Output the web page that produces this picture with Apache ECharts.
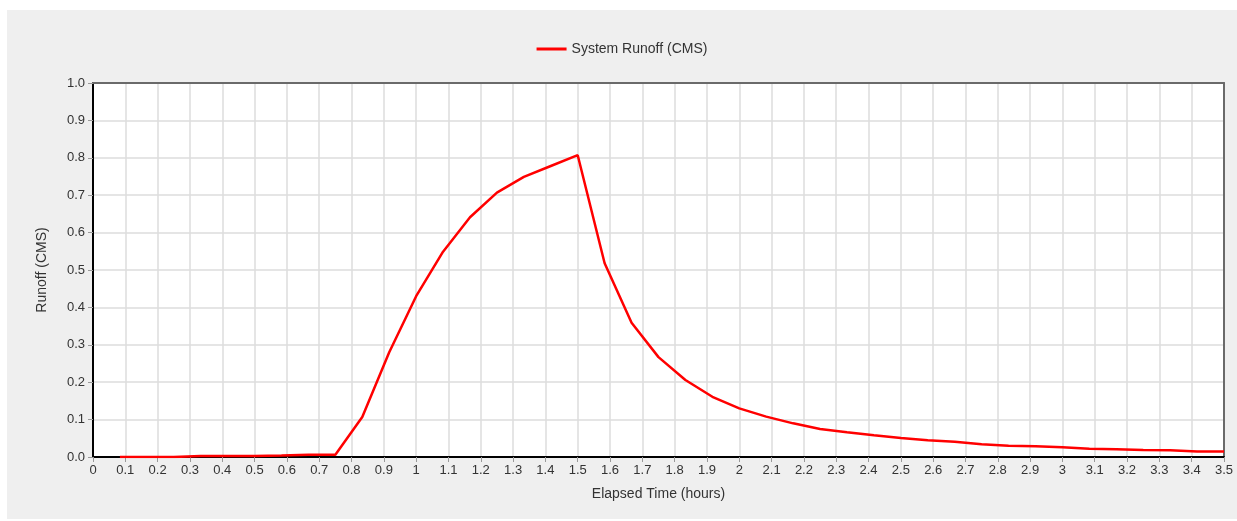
<!DOCTYPE html>
<html>
<head>
<meta charset="utf-8">
<script src="https://cdn.jsdelivr.net/npm/echarts@6/dist/echarts.min.js"></script>
<style>
html,body{margin:0;padding:0;background:#ffffff;width:1237px;height:521px;overflow:hidden;}
#chart{position:absolute;left:7px;top:10px;width:1230px;height:509px;}
</style>
</head>
<body>
<div id="chart"></div>
<script>
// Elapsed time (hours) at each reported step
const timeHours = [0.0833,0.1667,0.25,0.3333,0.4167,0.5,0.5833,0.6667,0.75,0.8333,0.9167,1.0,
  1.0833,1.1667,1.25,1.3333,1.4167,1.5,1.5833,1.6667,1.75,1.8333,1.9167,2.0,
  2.0833,2.1667,2.25,2.3333,2.4167,2.5,2.5833,2.6667,2.75,2.8333,2.9167,3.0,
  3.0833,3.1667,3.25,3.3333,3.4167,3.5];
// System runoff (CMS)
const runoff = [0,0,0,0.003,0.003,0.003,0.004,0.006,0.006,0.107,0.28,0.43,
  0.549,0.641,0.707,0.749,0.778,0.807,0.518,0.359,0.267,0.206,0.161,0.130,
  0.108,0.090,0.075,0.066,0.058,0.051,0.045,0.041,0.034,0.030,0.029,0.026,
  0.022,0.021,0.019,0.018,0.015,0.015];
const seriesName = 'System Runoff (CMS)';
const xAxisTitle = 'Elapsed Time (hours)';
const yAxisTitle = 'Runoff (CMS)';

const chart = echarts.init(document.getElementById('chart'), null, {renderer:'canvas'});
const font = 'Liberation Sans, Arial, sans-serif';
const frameAxis = {
  axisLine:{show:true, onZero:false, lineStyle:{color:'#6a6a6a',width:2}},
  axisTick:{show:false}, axisLabel:{show:false}, splitLine:{show:false}
};
chart.setOption({
  backgroundColor:'#efefef',
  animation:false,
  textStyle:{fontFamily:font},
  legend:{
    top:27, left:'center',
    data:[{name:seriesName, icon:'rect'}],
    itemWidth:30, itemHeight:3, itemGap:10,
    textStyle:{fontSize:14,color:'#333',fontFamily:font}
  },
  grid:{left:86, top:73, right:13, bottom:62, show:true, borderWidth:0, backgroundColor:'#ffffff'},
  xAxis:[{
    type:'value', min:0, max:3.5, interval:0.1,
    name:xAxisTitle, nameLocation:'middle', nameGap:30,
    nameTextStyle:{fontSize:14,color:'#333',fontFamily:font},
    axisLine:{show:true, onZero:false, lineStyle:{color:'#000',width:2}},
    axisTick:{show:true, length:5, lineStyle:{color:'#999',width:1}},
    axisLabel:{fontSize:13,color:'#333',fontFamily:font, margin:7, showMaxLabel:true, showMinLabel:true,
      formatter:function(v){return String(parseFloat(v.toFixed(1)));}},
    splitLine:{show:true, lineStyle:{color:'#dcdcdc',width:1.5}},
    z:3
  }, Object.assign({type:'value', min:0, max:3.5, position:'top', z:3}, frameAxis)],
  yAxis:[{
    type:'value', min:0, max:1, interval:0.1,
    name:yAxisTitle, nameLocation:'middle', nameGap:44, nameRotate:90,
    nameTextStyle:{fontSize:14,color:'#333',fontFamily:font},
    axisLine:{show:true, onZero:false, lineStyle:{color:'#000',width:2}},
    axisTick:{show:true, length:5, lineStyle:{color:'#999',width:1}},
    axisLabel:{fontSize:13,color:'#333',fontFamily:font, margin:8,
      formatter:function(v){return v.toFixed(1);}},
    splitLine:{show:true, lineStyle:{color:'#dcdcdc',width:1.5}},
    z:3
  }, Object.assign({type:'value', min:0, max:1, position:'right', z:3}, frameAxis)],
  series:[{
    name:seriesName, type:'line', symbol:'none', showSymbol:false,
    xAxisIndex:0, yAxisIndex:0,
    data:timeHours.map((t,i)=>[t,runoff[i]]),
    lineStyle:{color:'#ff0000',width:2.5},
    itemStyle:{color:'#ff0000'}
  }]
});
</script>
</body>
</html>
